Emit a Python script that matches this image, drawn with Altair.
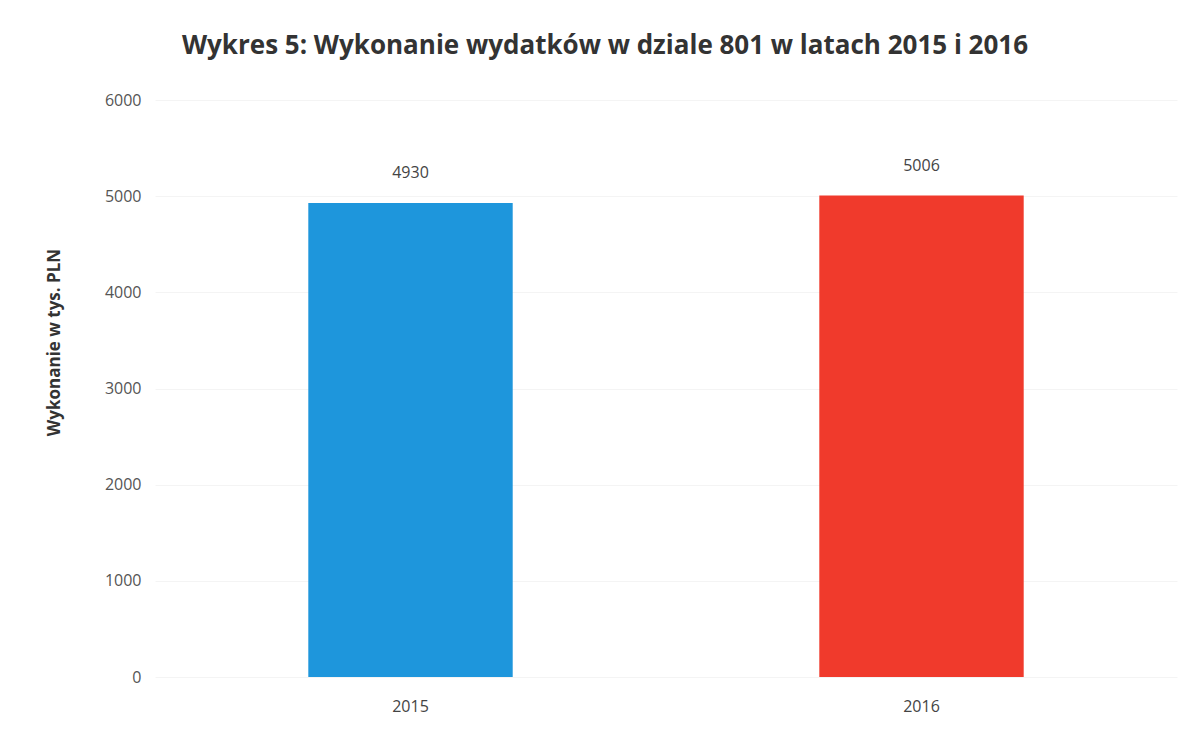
import altair as alt
import pandas as pd

years = ["2015", "2016"]
values = [4930, 5006]
colors = ["#1E96DC", "#F03A2C"]

df = pd.DataFrame({"rok": years, "wartosc": values, "kolor": colors})

FONT = "Open Sans"

base = alt.Chart(df).encode(
    x=alt.X("rok:N", sort=years,
            scale=alt.Scale(paddingInner=0.6, paddingOuter=0.3),
            axis=alt.Axis(title=None, labelAngle=0, labelFontSize=16, labelColor="#444",
                          labelFont=FONT, domain=False, ticks=False, grid=False, labelPadding=21)),
)

bars = base.mark_bar().encode(
    y=alt.Y("wartosc:Q", scale=alt.Scale(domain=[0, 6000]),
            axis=alt.Axis(title="Wykonanie w tys. PLN", values=[0, 1000, 2000, 3000, 4000, 5000, 6000],
                          format="d",
                          labelFontSize=16, labelColor="#555", labelFont=FONT,
                          titleFont=FONT, titleFontSize=17, titleFontWeight="bold",
                          titleColor="#333", titleX=-92, titleY=242, titleAngle=-90,
                          titleBaseline="bottom", labelPadding=14,
                          domain=False, ticks=False, gridColor="#f4f4f4")),
    color=alt.Color("kolor:N", scale=None),
)

text = base.mark_text(dy=-30, fontSize=16, font=FONT, color="#444").encode(
    y="wartosc:Q",
    text=alt.Text("wartosc:Q"),
)

chart = (bars + text).properties(
    width=1022, height=577,
    title=alt.TitleParams("Wykres 5: Wykonanie wydatków w dziale 801 w latach 2015 i 2016",
                          font=FONT, fontSize=26, fontWeight="bold", color="#333",
                          anchor="middle", dx=-61, offset=33),
    autosize=alt.AutoSizeParams(type="none"),
    padding={"left": 147, "top": 92, "right": 10, "bottom": 40},
).configure(background="white").configure_view(stroke=None, strokeWidth=0)

chart.save("out.html", embed_options={"renderer": "svg", "actions": False})
